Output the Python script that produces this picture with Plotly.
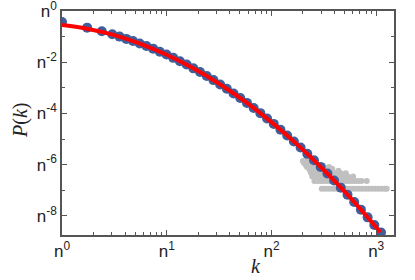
import numpy as np
import plotly.graph_objects as go

# log-binned P(k), stored as log10 values
log_k_binned = [0.0, 0.24, 0.38, 0.48, 0.55, 0.614, 0.678, 0.742, 0.806, 0.870,
                0.934, 0.998, 1.062, 1.126, 1.190, 1.254, 1.318, 1.382, 1.446, 1.510,
                1.574, 1.638, 1.702, 1.766, 1.830, 1.894, 1.958, 2.022, 2.086, 2.150,
                2.214, 2.278, 2.342, 2.406, 2.470, 2.534, 2.598, 2.662, 2.726, 2.790,
                2.854, 2.918, 2.982, 3.046]
log_p_binned = [-0.43, -0.65, -0.79, -0.91, -1.00, -1.09, -1.17, -1.27, -1.37, -1.47,
                -1.59, -1.70, -1.83, -1.96, -2.09, -2.24, -2.38, -2.54, -2.70, -2.87,
                -3.04, -3.22, -3.40, -3.59, -3.79, -3.99, -4.20, -4.41, -4.64, -4.86,
                -5.10, -5.33, -5.58, -5.83, -6.09, -6.35, -6.62, -6.90, -7.18, -7.46,
                -7.76, -8.06, -8.36, -8.65]

# fitted curve
log_k_fit = [0.0, 0.25, 0.5, 0.75, 1.0, 1.25, 1.5, 1.75, 2.0, 2.25, 2.5, 2.75, 3.04]
log_p_fit = [-0.55, -0.70, -0.94, -1.28, -1.71, -2.23, -2.84, -3.54, -4.34, -5.23,
             -6.21, -7.28, -8.64]

# raw tail (grey): log10 k and number of counts
log_k_raw = [2.48, 2.51, 2.54, 2.57, 2.60, 2.63, 2.66, 2.69, 2.72, 2.75, 2.78, 2.81,
             2.84, 2.87, 2.90, 2.93, 2.96, 2.99, 3.02, 3.05, 3.08, 3.10,
             2.41, 2.44, 2.47, 2.50, 2.53, 2.56, 2.59, 2.62, 2.65, 2.68, 2.71, 2.74,
             2.77, 2.80, 2.83, 2.86, 2.91,
             2.39, 2.42, 2.45, 2.48, 2.51, 2.54, 2.57, 2.60, 2.63, 2.66, 2.69, 2.73, 2.78,
             2.38, 2.41, 2.44, 2.47, 2.50, 2.53, 2.56, 2.59, 2.62, 2.66, 2.71,
             2.37, 2.40, 2.43, 2.46, 2.49, 2.52, 2.55, 2.58, 2.64,
             2.36, 2.39, 2.42, 2.45, 2.48, 2.51, 2.54, 2.58,
             2.34, 2.37, 2.40, 2.43, 2.46, 2.50, 2.55,
             2.33, 2.36, 2.39, 2.42, 2.46,
             2.31, 2.34, 2.37, 2.41,
             2.30, 2.33, 2.36]
count_raw = [1] * 22 + [2] * 17 + [3] * 13 + [4] * 11 + [5] * 9 + [6] * 8 + [7] * 7 \
    + [8] * 5 + [10] * 4 + [12] * 3
p_single = 1.15e-7

x_ticks = [0, 1, 2, 3]
y_ticks = [0, -2, -4, -6, -8]

fig = go.Figure()
fig.add_trace(go.Scatter(
    x=10 ** np.array(log_k_raw), y=np.array(count_raw) * p_single, mode="markers",
    marker=dict(color="#c0c0c0", size=6), showlegend=False))
fig.add_trace(go.Scatter(
    x=10 ** np.array(log_k_binned), y=10 ** np.array(log_p_binned), mode="markers",
    marker=dict(color="#3f5e9b", size=10, line=dict(width=0)), showlegend=False))
fig.add_trace(go.Scatter(
    x=10 ** np.array(log_k_fit), y=10 ** np.array(log_p_fit), mode="lines",
    line=dict(color="#ff0000", width=4, shape="spline"), showlegend=False))

axis_style = dict(
    type="log", showgrid=False, zeroline=False, showline=True, linecolor="#555",
    linewidth=1.5, mirror="allticks", ticks="inside", ticklen=5, tickcolor="#555",
    tickfont=dict(family="Liberation Sans, Arial", size=17, color="#222"),
    automargin=False, ticklabeloverflow="allow",
)

x_minor = [m * 10 ** d for d in range(0, 4) for m in range(2, 10)]

fig.update_xaxes(
    range=[0, 3.17], tickvals=[10 ** t for t in x_ticks],
    ticktext=[f"n<sup>{t}</sup>" for t in x_ticks],
    minor=dict(ticks="inside", ticklen=3, tickcolor="#555", tickmode="array",
               tickvals=x_minor),
    **axis_style)
fig.update_yaxes(
    range=[-8.75, 0], tickvals=[10.0 ** t for t in y_ticks],
    ticktext=[f"n<sup>{t}</sup>" for t in y_ticks],
    minor=dict(ticks="inside", ticklen=3, tickcolor="#555", tickmode="array",
               tickvals=[10.0 ** t for t in [-1, -3, -5, -7]]),
    **axis_style)

title_font = dict(family="Liberation Serif", size=20, color="#222")
fig.add_annotation(text="<i>k</i>", xref="paper", yref="paper", x=0.584, y=-0.138,
                   xanchor="center", yanchor="middle", showarrow=False, font=title_font)
fig.add_annotation(text="<i>P</i>(<i>k</i>)", xref="paper", yref="paper", x=-0.127,
                   y=0.513, xanchor="center", yanchor="middle", textangle=-90,
                   showarrow=False, font=title_font)

fig.update_layout(
    width=415, height=280, margin=dict(l=62, r=21, t=11, b=45),
    plot_bgcolor="white", paper_bgcolor="white",
)

fig.write_html("out.html", config={"displayModeBar": False},
               post_script="document.body.style.margin = '0';")
